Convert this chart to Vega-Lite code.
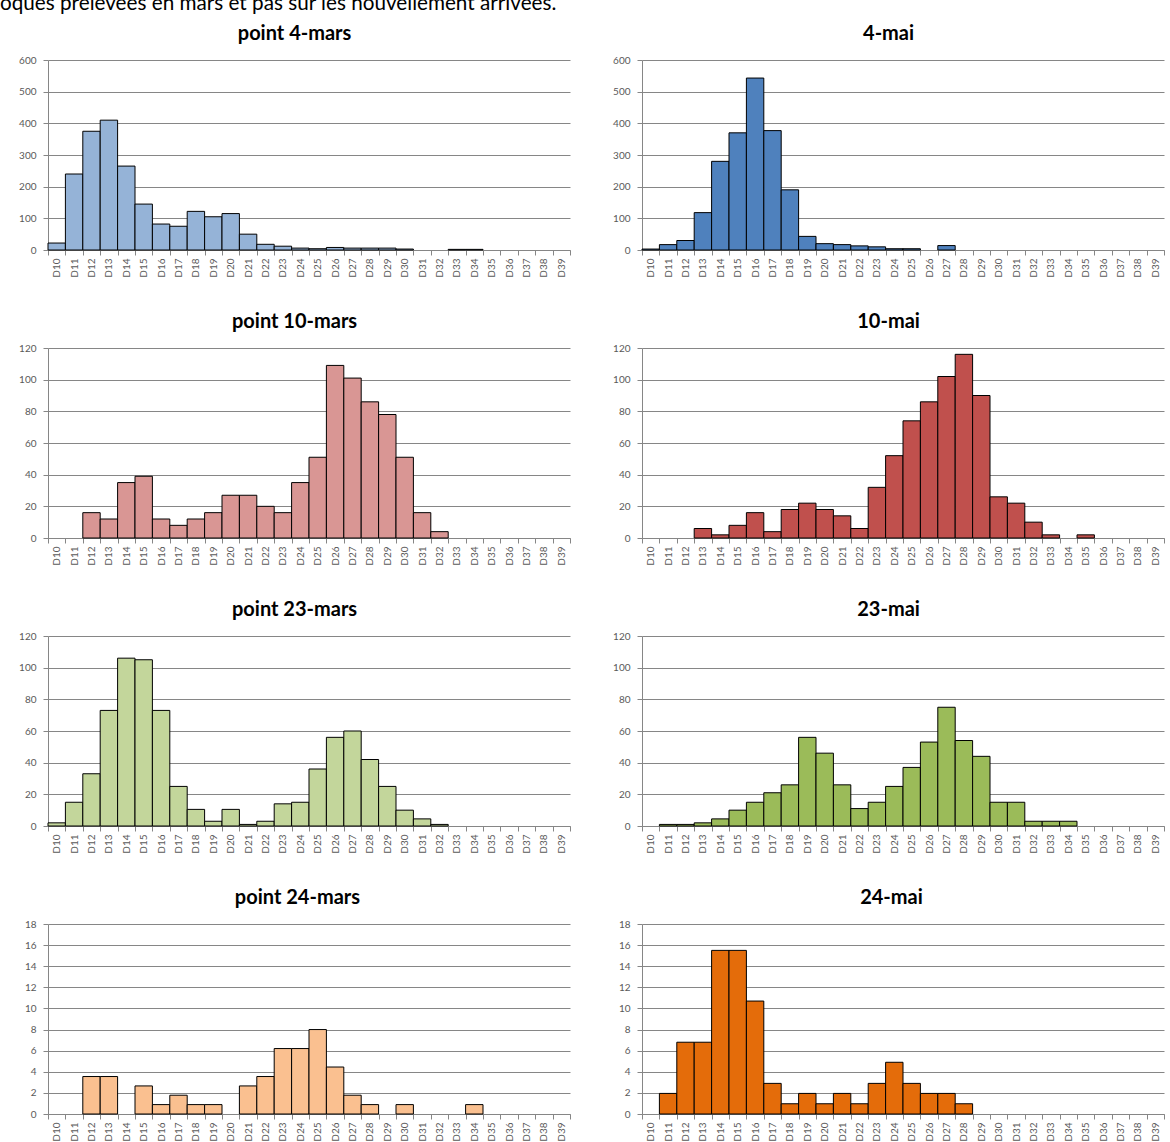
{
"$schema": "https://vega.github.io/schema/vega-lite/v6.json",
"background": "white",
"padding": {"left": 0, "right": 0, "top": -7, "bottom": 0},
"title": {"text": "oques prélevées en mars et pas sur les nouvellement arrivées.", "anchor": "start", "frame": "group", "font": "Lato", "fontSize": 20.7, "fontWeight": "normal", "color": "black", "dx": -48, "offset": 9},
"datasets": {"t": [
{"p":"m4","d":"D10","n":22},{"p":"m4","d":"D11","n":240},{"p":"m4","d":"D12","n":375},{"p":"m4","d":"D13","n":410},{"p":"m4","d":"D14","n":265},{"p":"m4","d":"D15","n":145},{"p":"m4","d":"D16","n":82},{"p":"m4","d":"D17","n":75},{"p":"m4","d":"D18","n":122},{"p":"m4","d":"D19","n":105},{"p":"m4","d":"D20","n":115},{"p":"m4","d":"D21","n":50},{"p":"m4","d":"D22","n":18},{"p":"m4","d":"D23","n":12},{"p":"m4","d":"D24","n":6},{"p":"m4","d":"D25","n":4},{"p":"m4","d":"D26","n":8},{"p":"m4","d":"D27","n":6},{"p":"m4","d":"D28","n":6},{"p":"m4","d":"D29","n":6},{"p":"m4","d":"D30","n":3},{"p":"m4","d":"D33","n":2},{"p":"m4","d":"D34","n":2},
{"p":"y4","d":"D10","n":3},{"p":"y4","d":"D11","n":17},{"p":"y4","d":"D12","n":30},{"p":"y4","d":"D13","n":118},{"p":"y4","d":"D14","n":280},{"p":"y4","d":"D15","n":370},{"p":"y4","d":"D16","n":543},{"p":"y4","d":"D17","n":377},{"p":"y4","d":"D18","n":190},{"p":"y4","d":"D19","n":43},{"p":"y4","d":"D20","n":20},{"p":"y4","d":"D21","n":17},{"p":"y4","d":"D22","n":13},{"p":"y4","d":"D23","n":10},{"p":"y4","d":"D24","n":4},{"p":"y4","d":"D25","n":4},{"p":"y4","d":"D27","n":14},
{"p":"m10","d":"D12","n":16},{"p":"m10","d":"D13","n":12},{"p":"m10","d":"D14","n":35},{"p":"m10","d":"D15","n":39},{"p":"m10","d":"D16","n":12},{"p":"m10","d":"D17","n":8},{"p":"m10","d":"D18","n":12},{"p":"m10","d":"D19","n":16},{"p":"m10","d":"D20","n":27},{"p":"m10","d":"D21","n":27},{"p":"m10","d":"D22","n":20},{"p":"m10","d":"D23","n":16},{"p":"m10","d":"D24","n":35},{"p":"m10","d":"D25","n":51},{"p":"m10","d":"D26","n":109},{"p":"m10","d":"D27","n":101},{"p":"m10","d":"D28","n":86},{"p":"m10","d":"D29","n":78},{"p":"m10","d":"D30","n":51},{"p":"m10","d":"D31","n":16},{"p":"m10","d":"D32","n":4},
{"p":"y10","d":"D13","n":6},{"p":"y10","d":"D14","n":2},{"p":"y10","d":"D15","n":8},{"p":"y10","d":"D16","n":16},{"p":"y10","d":"D17","n":4},{"p":"y10","d":"D18","n":18},{"p":"y10","d":"D19","n":22},{"p":"y10","d":"D20","n":18},{"p":"y10","d":"D21","n":14},{"p":"y10","d":"D22","n":6},{"p":"y10","d":"D23","n":32},{"p":"y10","d":"D24","n":52},{"p":"y10","d":"D25","n":74},{"p":"y10","d":"D26","n":86},{"p":"y10","d":"D27","n":102},{"p":"y10","d":"D28","n":116},{"p":"y10","d":"D29","n":90},{"p":"y10","d":"D30","n":26},{"p":"y10","d":"D31","n":22},{"p":"y10","d":"D32","n":10},{"p":"y10","d":"D33","n":2},{"p":"y10","d":"D35","n":2},
{"p":"m23","d":"D10","n":2},{"p":"m23","d":"D11","n":15},{"p":"m23","d":"D12","n":33},{"p":"m23","d":"D13","n":73},{"p":"m23","d":"D14","n":106},{"p":"m23","d":"D15","n":105},{"p":"m23","d":"D16","n":73},{"p":"m23","d":"D17","n":25},{"p":"m23","d":"D18","n":10.5},{"p":"m23","d":"D19","n":3},{"p":"m23","d":"D20","n":10.5},{"p":"m23","d":"D21","n":1},{"p":"m23","d":"D22","n":3},{"p":"m23","d":"D23","n":14},{"p":"m23","d":"D24","n":15},{"p":"m23","d":"D25","n":36},{"p":"m23","d":"D26","n":56},{"p":"m23","d":"D27","n":60},{"p":"m23","d":"D28","n":42},{"p":"m23","d":"D29","n":25},{"p":"m23","d":"D30","n":10},{"p":"m23","d":"D31","n":4.5},{"p":"m23","d":"D32","n":1},
{"p":"y23","d":"D11","n":1},{"p":"y23","d":"D12","n":1},{"p":"y23","d":"D13","n":2},{"p":"y23","d":"D14","n":4.5},{"p":"y23","d":"D15","n":10},{"p":"y23","d":"D16","n":15},{"p":"y23","d":"D17","n":21},{"p":"y23","d":"D18","n":26},{"p":"y23","d":"D19","n":56},{"p":"y23","d":"D20","n":46},{"p":"y23","d":"D21","n":26},{"p":"y23","d":"D22","n":11},{"p":"y23","d":"D23","n":15},{"p":"y23","d":"D24","n":25},{"p":"y23","d":"D25","n":37},{"p":"y23","d":"D26","n":53},{"p":"y23","d":"D27","n":75},{"p":"y23","d":"D28","n":54},{"p":"y23","d":"D29","n":44},{"p":"y23","d":"D30","n":15},{"p":"y23","d":"D31","n":15},{"p":"y23","d":"D32","n":3},{"p":"y23","d":"D33","n":3},{"p":"y23","d":"D34","n":3},
{"p":"m24","d":"D12","n":3.55},{"p":"m24","d":"D13","n":3.55},{"p":"m24","d":"D15","n":2.66},{"p":"m24","d":"D16","n":0.89},{"p":"m24","d":"D17","n":1.78},{"p":"m24","d":"D18","n":0.89},{"p":"m24","d":"D19","n":0.89},{"p":"m24","d":"D21","n":2.66},{"p":"m24","d":"D22","n":3.55},{"p":"m24","d":"D23","n":6.2},{"p":"m24","d":"D24","n":6.2},{"p":"m24","d":"D25","n":8},{"p":"m24","d":"D26","n":4.45},{"p":"m24","d":"D27","n":1.78},{"p":"m24","d":"D28","n":0.89},{"p":"m24","d":"D30","n":0.89},{"p":"m24","d":"D34","n":0.89},
{"p":"y24","d":"D11","n":1.95},{"p":"y24","d":"D12","n":6.8},{"p":"y24","d":"D13","n":6.8},{"p":"y24","d":"D14","n":15.5},{"p":"y24","d":"D15","n":15.5},{"p":"y24","d":"D16","n":10.7},{"p":"y24","d":"D17","n":2.9},{"p":"y24","d":"D18","n":0.97},{"p":"y24","d":"D19","n":1.95},{"p":"y24","d":"D20","n":0.97},{"p":"y24","d":"D21","n":1.95},{"p":"y24","d":"D22","n":0.97},{"p":"y24","d":"D23","n":2.9},{"p":"y24","d":"D24","n":4.9},{"p":"y24","d":"D25","n":2.9},{"p":"y24","d":"D26","n":1.95},{"p":"y24","d":"D27","n":1.95},{"p":"y24","d":"D28","n":0.97}
]},
"data": {"name": "t"},
"columns": 2,
"spacing": {"row": 34, "column": 41},
"concat": [
{"title": "point 4-mars", "width": 522, "height": 190, "transform": [{"filter": "datum.p === 'm4'"}],
 "mark": {"type": "bar", "color": "#95B3D7"},
 "encoding": {"x": {"field": "d", "type": "nominal", "sort": null, "scale": {"domain": ["D10","D11","D12","D13","D14","D15","D16","D17","D18","D19","D20","D21","D22","D23","D24","D25","D26","D27","D28","D29","D30","D31","D32","D33","D34","D35","D36","D37","D38","D39"], "paddingInner": 0, "paddingOuter": 0}},
  "y": {"field": "n", "type": "quantitative", "scale": {"domain": [0, 600]}, "axis": {"values": [0,100,200,300,400,500,600]}}}},
{"title": "4-mai", "width": 522, "height": 190, "transform": [{"filter": "datum.p === 'y4'"}],
 "mark": {"type": "bar", "color": "#4F81BD"},
 "encoding": {"x": {"field": "d", "type": "nominal", "sort": null, "scale": {"domain": ["D10","D11","D12","D13","D14","D15","D16","D17","D18","D19","D20","D21","D22","D23","D24","D25","D26","D27","D28","D29","D30","D31","D32","D33","D34","D35","D36","D37","D38","D39"], "paddingInner": 0, "paddingOuter": 0}},
  "y": {"field": "n", "type": "quantitative", "scale": {"domain": [0, 600]}, "axis": {"values": [0,100,200,300,400,500,600]}}}},
{"title": "point 10-mars", "width": 522, "height": 190, "transform": [{"filter": "datum.p === 'm10'"}],
 "mark": {"type": "bar", "color": "#D99694"},
 "encoding": {"x": {"field": "d", "type": "nominal", "sort": null, "scale": {"domain": ["D10","D11","D12","D13","D14","D15","D16","D17","D18","D19","D20","D21","D22","D23","D24","D25","D26","D27","D28","D29","D30","D31","D32","D33","D34","D35","D36","D37","D38","D39"], "paddingInner": 0, "paddingOuter": 0}},
  "y": {"field": "n", "type": "quantitative", "scale": {"domain": [0, 120]}, "axis": {"values": [0,20,40,60,80,100,120]}}}},
{"title": "10-mai", "width": 522, "height": 190, "transform": [{"filter": "datum.p === 'y10'"}],
 "mark": {"type": "bar", "color": "#C0504D"},
 "encoding": {"x": {"field": "d", "type": "nominal", "sort": null, "scale": {"domain": ["D10","D11","D12","D13","D14","D15","D16","D17","D18","D19","D20","D21","D22","D23","D24","D25","D26","D27","D28","D29","D30","D31","D32","D33","D34","D35","D36","D37","D38","D39"], "paddingInner": 0, "paddingOuter": 0}},
  "y": {"field": "n", "type": "quantitative", "scale": {"domain": [0, 120]}, "axis": {"values": [0,20,40,60,80,100,120]}}}},
{"title": "point 23-mars", "width": 522, "height": 190, "transform": [{"filter": "datum.p === 'm23'"}],
 "mark": {"type": "bar", "color": "#C3D69B"},
 "encoding": {"x": {"field": "d", "type": "nominal", "sort": null, "scale": {"domain": ["D10","D11","D12","D13","D14","D15","D16","D17","D18","D19","D20","D21","D22","D23","D24","D25","D26","D27","D28","D29","D30","D31","D32","D33","D34","D35","D36","D37","D38","D39"], "paddingInner": 0, "paddingOuter": 0}},
  "y": {"field": "n", "type": "quantitative", "scale": {"domain": [0, 120]}, "axis": {"values": [0,20,40,60,80,100,120]}}}},
{"title": "23-mai", "width": 522, "height": 190, "transform": [{"filter": "datum.p === 'y23'"}],
 "mark": {"type": "bar", "color": "#9BBB59"},
 "encoding": {"x": {"field": "d", "type": "nominal", "sort": null, "scale": {"domain": ["D10","D11","D12","D13","D14","D15","D16","D17","D18","D19","D20","D21","D22","D23","D24","D25","D26","D27","D28","D29","D30","D31","D32","D33","D34","D35","D36","D37","D38","D39"], "paddingInner": 0, "paddingOuter": 0}},
  "y": {"field": "n", "type": "quantitative", "scale": {"domain": [0, 120]}, "axis": {"values": [0,20,40,60,80,100,120]}}}},
{"title": "point 24-mars", "width": 522, "height": 190, "transform": [{"filter": "datum.p === 'm24'"}],
 "mark": {"type": "bar", "color": "#FAC090"},
 "encoding": {"x": {"field": "d", "type": "nominal", "sort": null, "scale": {"domain": ["D10","D11","D12","D13","D14","D15","D16","D17","D18","D19","D20","D21","D22","D23","D24","D25","D26","D27","D28","D29","D30","D31","D32","D33","D34","D35","D36","D37","D38","D39"], "paddingInner": 0, "paddingOuter": 0}},
  "y": {"field": "n", "type": "quantitative", "scale": {"domain": [0, 18]}, "axis": {"values": [0,2,4,6,8,10,12,14,16,18]}}}},
{"title": "24-mai", "width": 522, "height": 190, "transform": [{"filter": "datum.p === 'y24'"}],
 "mark": {"type": "bar", "color": "#E46C0A"},
 "encoding": {"x": {"field": "d", "type": "nominal", "sort": null, "scale": {"domain": ["D10","D11","D12","D13","D14","D15","D16","D17","D18","D19","D20","D21","D22","D23","D24","D25","D26","D27","D28","D29","D30","D31","D32","D33","D34","D35","D36","D37","D38","D39"], "paddingInner": 0, "paddingOuter": 0}},
  "y": {"field": "n", "type": "quantitative", "scale": {"domain": [0, 18]}, "axis": {"values": [0,2,4,6,8,10,12,14,16,18]}}}}
],
"config": {
 "font": "Lato",
 "view": {"stroke": null},
 "title": {"font": "Lato", "fontSize": 20, "fontWeight": "bold", "color": "black", "anchor": "middle", "frame": "bounds", "offset": 11},
 "bar": {"stroke": "black", "strokeWidth": 1, "opacity": 1},
 "axis": {"title": null, "labelFont": "Lato", "labelFontSize": 10, "labelColor": "#595959", "domainColor": "#868686", "tickColor": "#868686", "gridColor": "#868686", "gridOpacity": 1, "tickSize": 5, "labelPadding": 3},
 "axisX": {"labelAngle": -90, "tickBand": "extent", "grid": false},
 "axisY": {"grid": true, "labelPadding": 7}
}
}
